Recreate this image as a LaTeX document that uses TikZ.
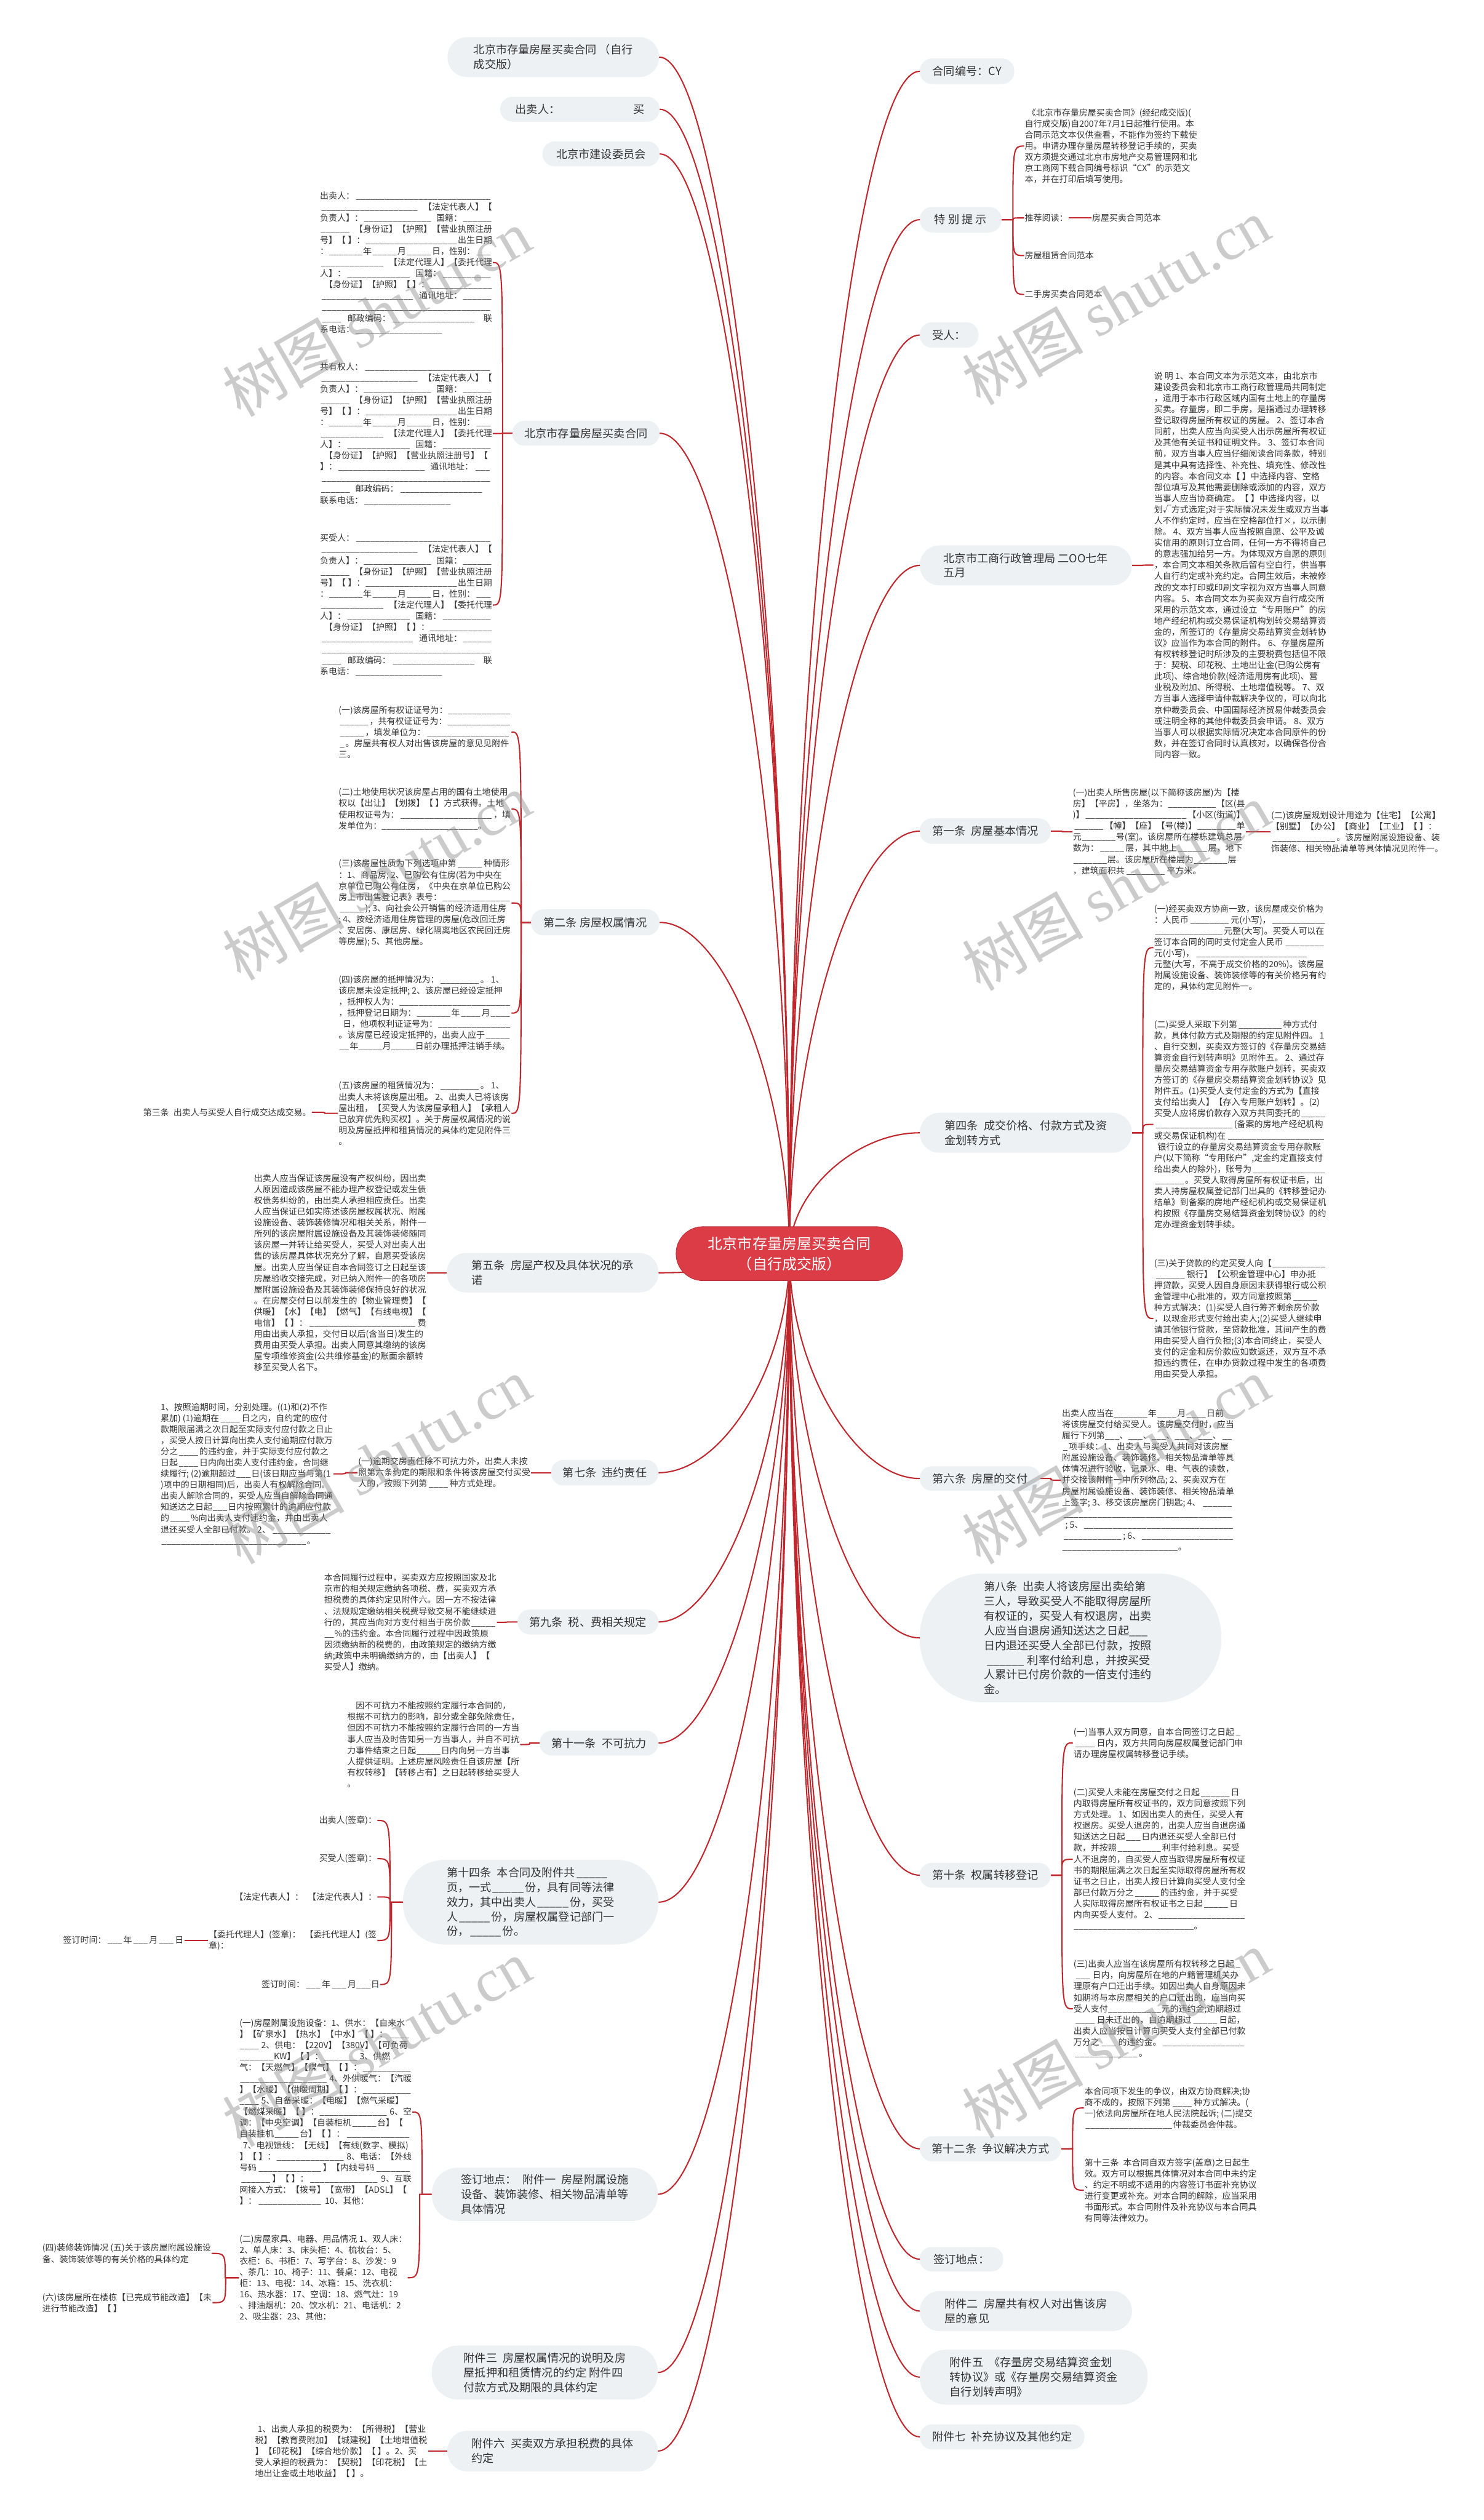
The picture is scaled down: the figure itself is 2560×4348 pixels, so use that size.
\documentclass[tikz,border=0pt]{standalone}
\usepackage{fontspec}
\setmainfont{Noto Sans CJK SC}
\newfontfamily\wmserif{Liberation Serif}
\usetikzlibrary{calc}
\definecolor{linkred}{HTML}{C0272D}
\definecolor{boxgray}{HTML}{EEF1F4}
\definecolor{rootred}{HTML}{DC3C45}
\definecolor{txt}{HTML}{333333}
\newcommand\cfont{\fontsize{14.85pt}{19.2pt}\selectfont}
\newcommand\nfont{\fontsize{19.3pt}{25.3pt}\selectfont}
\newcommand\rfont{\fontsize{25.5pt}{35pt}\selectfont}
\newcommand\usc{\hbox{\_}}
\newcommand\Fl{\cleaders\usc\hskip 0pt plus 1fill\relax}
\newcommand\Bk[1]{\hbox to #1em{\cleaders\usc\hfill}}
\newcommand\Lf[1]{\hbox to 20em{#1}}
\newcommand\rlink[2]{\draw[link] let \p1=(rc), \p2=(#1.#2) in (\p1) .. controls (\x1,{0.5*(\y1+\y2)}) and ({0.5*(\x1+\x2)},\y2) .. (\p2);}
\newcommand\blinkR[2]{\draw[link] let \p1=(#1.east), \p2=(#2.west), \n1={0.5*(\x1+\x2)} in (\p1) -- (\n1,\y1) .. controls (\n1,\y2) and (\n1,\y2) .. (\p2);}
\newcommand\blinkL[2]{\draw[link] let \p1=(#1.west), \p2=(#2.east), \n1={0.5*(\x1+\x2)} in (\p1) -- (\n1,\y1) .. controls (\n1,\y2) and (\n1,\y2) .. (\p2);}
\begin{document}
\begin{tikzpicture}[x=1pt,y=1pt,
  link/.style={draw=linkred,line width=2.2pt},
  box/.style={fill=boxgray,text=txt,font=\nfont,align=left,inner sep=0pt},
  leaf/.style={text=txt,font=\cfont,align=left,inner sep=1pt},
  wm/.style={rotate=30,text=black!45,opacity=0.45,font=\fontsize{105pt}{105pt}\selectfont}]
\fill[white] (0,0) rectangle (2560,-4348);
\useasboundingbox (0,0) rectangle (2560,-4348);
\coordinate (rc) at (1362,-2163);

% ---------- level 1, left ----------
\node[box,minimum width=365pt,minimum height=69pt,rounded corners=34pt] (L1) at (954.5,-98.5) {北京市存量房屋买卖合同 （自行\\成交版）};
\node[box,minimum width=275pt,minimum height=43pt,rounded corners=21pt] (L2) at (1000.5,-188.5) {出卖人：\hspace{126pt}买};
\node[box,minimum width=202pt,minimum height=43pt,rounded corners=21pt] (L3) at (1037,-265.5) {北京市建设委员会};
\node[box,minimum width=254pt,minimum height=43pt,rounded corners=21pt] (L4) at (1011,-747.5) {北京市存量房屋买卖合同};
\node[box,minimum width=222pt,minimum height=45pt,rounded corners=22pt] (L5) at (1027,-1591.5) {第二条 房屋权属情况};
\node[box,minimum width=365pt,minimum height=68pt,rounded corners=33pt] (L6) at (953.5,-2196) {第五条\enspace 房屋产权及具体状况的承\\诺};
\node[box,minimum width=185pt,minimum height=44pt,rounded corners=21pt] (L7) at (1043.5,-2541) {第七条\enspace 违约责任};
\node[box,minimum width=243pt,minimum height=43pt,rounded corners=21pt] (L8) at (1014.5,-2798.5) {第九条\enspace 税、费相关规定};
\node[box,minimum width=205pt,minimum height=43pt,rounded corners=21pt] (L9) at (1033.5,-3007.5) {第十一条\enspace 不可抗力};
\node[box,minimum width=441pt,minimum height=146pt,rounded corners=72pt] (L10) at (915.5,-3282) {第十四条\enspace 本合同及附件共\Bk{3}\\页，一式\Bk{3}份，具有同等法律\\效力，其中出卖人\Bk{3}份，买受\\人\Bk{3}份，房屋权属登记部门一\\份，\Bk{3}份。};
\node[box,minimum width=390pt,minimum height=92pt,rounded corners=45pt] (L11) at (940,-3786) {签订地点：\enspace 附件一\enspace 房屋附属设施\\设备、装饰装修、相关物品清单等\\具体情况};
\node[box,minimum width=390pt,minimum height=93pt,rounded corners=45pt] (L12) at (940,-4093.5) {附件三\enspace 房屋权属情况的说明及房\\屋抵押和租赁情况的约定 附件四\\付款方式及期限的具体约定};
\node[box,minimum width=363pt,minimum height=70pt,rounded corners=34pt] (L13) at (953.5,-4229) {附件六\enspace 买卖双方承担税费的具体\\约定};

% ---------- level 1, right ----------
\node[box,minimum width=163pt,minimum height=44pt,rounded corners=21pt] (R1) at (1668.5,-123) {合同编号：CY};
\node[box,minimum width=141pt,minimum height=44pt,rounded corners=21pt] (R2) at (1657.5,-379) {特 别 提 示};
\node[box,minimum width=101pt,minimum height=44pt,rounded corners=21pt] (R3) at (1637.5,-578) {受人：};
\node[box,minimum width=366pt,minimum height=69pt,rounded corners=34pt] (R4) at (1770,-975.5) {北京市工商行政管理局 二OO七年\\五月};
\node[box,minimum width=226pt,minimum height=44pt,rounded corners=21pt] (R5) at (1700,-1434) {第一条\enspace 房屋基本情况};
\node[box,minimum width=366pt,minimum height=69pt,rounded corners=34pt] (R6) at (1770,-1954.5) {第四条\enspace 成交价格、付款方式及资\\金划转方式};
\node[box,minimum width=208pt,minimum height=42pt,rounded corners=20pt] (R7) at (1691,-2551) {第六条\enspace 房屋的交付};
\node[box,minimum width=520pt,minimum height=222pt,rounded corners=108pt] (R8) at (1847,-2826) {第八条\enspace 出卖人将该房屋出卖给第\\三人，导致买受人不能取得房屋所\\有权证的，买受人有权退房，出卖\\人应当自退房通知送达之日起\Bk{1.7}\\日内退还买受人全部已付款，按照\Bk{0.5}\\\Bk{3.9}利率付给利息，并按买受\\人累计已付房价款的一倍支付违约\\金。};
\node[box,minimum width=226pt,minimum height=43pt,rounded corners=21pt] (R9) at (1700,-3235.5) {第十条\enspace 权属转移登记};
\node[box,minimum width=244pt,minimum height=43pt,rounded corners=21pt] (R10) at (1709,-3707.5) {第十二条\enspace 争议解决方式};
\node[box,minimum width=144pt,minimum height=42pt,rounded corners=20pt] (R11) at (1659,-3898) {签订地点：};
\node[box,minimum width=366pt,minimum height=69pt,rounded corners=34pt] (R12) at (1770,-3987.5) {附件二\enspace 房屋共有权人对出售该房\\屋的意见};
\node[box,minimum width=393pt,minimum height=95pt,rounded corners=46pt] (R13) at (1783.5,-4101.5) {附件五\enspace《存量房交易结算资金划\\转协议》或《存量房交易结算资金\\自行划转声明》};
\node[box,minimum width=284pt,minimum height=43pt,rounded corners=21pt] (R14) at (1729,-4204.5) {附件七\enspace 补充协议及其他约定};

% ---------- left leaves ----------
\node[leaf,anchor=west] (P1) at (551,-453) {\Lf{出卖人：\Fl}\\
\Lf{\Fl\enspace【法定代表人】【}\\
\Lf{负责人】：\Bk{8}\enspace 国籍：\Fl}\\
\Lf{\Fl\enspace【身份证】【护照】【营业执照注册}\\
\Lf{号】【 】：\Fl 出生日期}\\
\Lf{：\Bk{4}年\Bk{3}月\Bk{3}日，性别：\Fl}\\
\Lf{\Fl\enspace【法定代理人】【委托代理}\\
\Lf{人】：\Bk{7.6}\enspace 国籍：\Fl}\\
\Lf{\kern0.5em【身份证】【护照】【 】：\Fl}\\
\Lf{\Bk{11}\enspace 通讯地址：\Fl}\\
\Lf{\Fl}\\
\Lf{\Bk{2.7}\enspace 邮政编码：\Bk{10}\hfill 联}\\
系电话：\Bk{10.3}};
\node[leaf,anchor=west] (P2) at (551,-748) {\Lf{共有权人：\Fl}\\
\Lf{\Fl\enspace【法定代表人】【}\\
\Lf{负责人】：\Bk{8}\enspace 国籍：\Fl}\\
\Lf{\Fl\enspace【身份证】【护照】【营业执照注册}\\
\Lf{号】【 】：\Fl 出生日期}\\
\Lf{：\Bk{4}年\Bk{3}月\Bk{3}日，性别：\Fl}\\
\Lf{\Fl\enspace【法定代理人】【委托代理}\\
\Lf{人】：\Bk{7.6}\enspace 国籍：\Fl}\\
\kern0.5em【身份证】【护照】【营业执照注册号】【\\
\Lf{】：\Bk{10.3}\enspace 通讯地址：\Fl}\\
\Lf{\Fl}\\
\Bk{3.6}\enspace 邮政编码：\Bk{10}\\
联系电话：\Bk{10.3}};
\node[leaf,anchor=west] (P3) at (551,-1044) {\Lf{买受人：\Fl}\\
\Lf{\Fl\enspace【法定代表人】【}\\
\Lf{负责人】：\Bk{8}\enspace 国籍：\Fl}\\
\Lf{\Fl\enspace【身份证】【护照】【营业执照注册}\\
\Lf{号】【 】：\Fl 出生日期}\\
\Lf{：\Bk{4}年\Bk{3}月\Bk{3}日，性别：\Fl}\\
\Lf{\Fl\enspace【法定代理人】【委托代理}\\
\Lf{人】：\Bk{7.6}\enspace 国籍：\Fl}\\
\Lf{\kern0.5em【身份证】【护照】【 】：\Fl}\\
\Lf{\Bk{11}\enspace 通讯地址：\Fl}\\
\Lf{\Fl}\\
\Lf{\Bk{2.7}\enspace 邮政编码：\Bk{10}\hfill 联}\\
系电话：\Bk{10.3}};

\node[leaf,anchor=west] (S1) at (583,-1263) {\Lf{(一)该房屋所有权证证号为：\Fl}\\
\Lf{\Bk{3.6}，共有权证证号为：\Fl}\\
\Lf{\Bk{3.1}，填发单位为：\Fl}\\
\Bk{0.8}。房屋共有权人对出售该房屋的意见见附件\\
三。};
\node[leaf,anchor=west] (S2) at (583,-1396) {(二)土地使用状况该房屋占用的国有土地使用\\
权以【出让】【划拨】【 】方式获得。土地\\
\Lf{使用权证号为：\Fl，填}\\
发单位为：\Bk{11.2}。};
\node[leaf,anchor=west] (S3) at (583,-1558) {(三)该房屋性质为下列选项中第\Bk{3.2}种情形\\
：1、商品房; 2、已购公有住房(若为中央在\\
京单位已购公有住房，《中央在京单位已购公\\
\Lf{房上市出售登记表》表号：\Fl}\\
\Bk{3.1}); 3、向社会公开销售的经济适用住房\\
; 4、按经济适用住房管理的房屋(危改回迁房\\
、安居房、康居房、绿化隔离地区农民回迁房\\
等房屋); 5、其他房屋。};
\node[leaf,anchor=west] (S4) at (583,-1748) {(四)该房屋的抵押情况为：\Bk{4.8}。 1、\\
该房屋未设定抵押; 2、该房屋已经设定抵押\\
\Lf{，抵押权人为：\Fl}\\
\Lf{，抵押登记日期为：\Bk{4.1}年\Bk{2.5}月\Fl}\\
\Lf{\Bk{0.5}日，他项权利证证号为：\Fl}\\
\Lf{。该房屋已经设定抵押的，出卖人应于\Fl}\\
\Bk{1.3}年\Bk{2.8}月\Bk{2.8}日前办理抵押注销手续。};
\node[leaf,anchor=west] (S5) at (583,-1921) {(五)该房屋的租赁情况为：\Bk{4.8}。 1、\\
出卖人未将该房屋出租。 2、出卖人已将该房\\
屋出租，【买受人为该房屋承租人】【承租人\\
已放弃优先购买权】。关于房屋权属情况的说\\
明及房屋抵押和租赁情况的具体约定见附件三\\
。};
\node[leaf,anchor=east] (T3) at (538,-1919) {第三条\enspace 出卖人与买受人自行成交达成交易。};

\node[leaf,anchor=west] (F5) at (437,-2196) {出卖人应当保证该房屋没有产权纠纷，因出卖\\
人原因造成该房屋不能办理产权登记或发生债\\
权债务纠纷的，由出卖人承担相应责任。出卖\\
人应当保证已如实陈述该房屋权属状况、附属\\
设施设备、装饰装修情况和相关关系，附件一\\
所列的该房屋附属设施设备及其装饰装修随同\\
该房屋一并转让给买受人，买受人对出卖人出\\
售的该房屋具体状况充分了解，自愿买受该房\\
屋。出卖人应当保证自本合同签订之日起至该\\
房屋验收交接完成，对已纳入附件一的各项房\\
屋附属设施设备及其装饰装修保持良好的状况\\
。在房屋交付日以前发生的【物业管理费】【\\
供暖】【水】【电】【燃气】【有线电视】【\\
\Lf{电信】【 】：\Fl 费}\\
用由出卖人承担，交付日以后(含当日)发生的\\
费用由买受人承担。出卖人同意其缴纳的该房\\
屋专项维修资金(公共维修基金)的账面余额转\\
移至买受人名下。};

\node[leaf,anchor=west] (A7) at (617,-2541) {(一)逾期交房责任除不可抗力外，出卖人未按\\
照第六条约定的期限和条件将该房屋交付买受\\
人的，按照下列第\Bk{2.6}种方式处理。};
\node[leaf,anchor=west] (B7) at (276,-2543) {1、按照逾期时间，分别处理。((1)和(2)不作\\
累加) (1)逾期在\Bk{2.6}日之内，自约定的应付\\
款期限届满之次日起至实际支付应付款之日止\\
，买受人按日计算向出卖人支付逾期应付款万\\
分之\Bk{2.5}的违约金，并于实际支付应付款之\\
日起\Bk{2.5}日内向出卖人支付违约金，合同继\\
续履行; (2)逾期超过\Bk{1.8}日(该日期应当与第(1\\
)项中的日期相同)后，出卖人有权解除合同。\\
出卖人解除合同的，买受人应当自解除合同通\\
知送达之日起\Bk{1.8}日内按照累计的逾期应付款\\
的\Bk{2.5}\%向出卖人支付违约金，并由出卖人\\
\Lf{退还买受人全部已付款。 2、\Fl}\\
\Bk{17}。};

\node[leaf,anchor=west] (N9) at (558,-2799) {本合同履行过程中，买卖双方应按照国家及北\\
京市的相关规定缴纳各项税、费，买卖双方承\\
担税费的具体约定见附件六。因一方不按法律\\
、法规规定缴纳相关税费导致交易不能继续进\\
\Lf{行的，其应当向对方支付相当于房价款\Fl}\\
\Bk{1.2}\%的违约金。本合同履行过程中因政策原\\
因须缴纳新的税费的，由政策规定的缴纳方缴\\
纳;政策中未明确缴纳方的，由【出卖人】【\\
买受人】缴纳。};

\node[leaf,anchor=west] (E11) at (598,-3010) {\kern1em 因不可抗力不能按照约定履行本合同的，\\
根据不可抗力的影响，部分或全部免除责任，\\
但因不可抗力不能按照约定履行合同的一方当\\
事人应当及时告知另一方当事人，并自不可抗\\
力事件结束之日起\Bk{2.9}日内向另一方当事\\
人提供证明。上述房屋风险责任自该房屋【所\\
有权转移】【转移占有】之日起转移给买受人\\
。};

\node[leaf,anchor=east] (C1) at (651,-3141) {出卖人(签章)：};
\node[leaf,anchor=east] (C2) at (651,-3207) {买受人(签章)：};
\node[leaf,anchor=east] (C3) at (651,-3273) {【法定代表人】：\enspace【法定代表人】：};
\node[leaf,anchor=east] (C4) at (651,-3348) {【委托代理人】(签章)：\enspace【委托代理人】(签\\章)：};
\node[leaf,anchor=east] (C5) at (656,-3424) {签订时间：\Bk{2}年\Bk{2}月\Bk{1.7}日};
\node[leaf,anchor=east] (D2) at (318,-3348) {签订时间：\Bk{2}年\Bk{2}月\Bk{2}日};

\node[leaf,anchor=west] (Q1) at (412,-3644) {(一)房屋附属设施设备：1、供水：【自来水\\
\Lf{】【矿泉水】【热水】【中水】【 】：\Fl}\\
\Bk{2.3} 2、供电：【220V】【380V】【可负荷\\
\Bk{4}KW】【 】：\Bk{4} 3、供燃\\
\Lf{气：【天燃气】【煤气】【 】：\Fl}\\
\Lf{\Fl\ 4、外供暖气：【汽暖}\\
\Lf{】【水暖】【供暖周期】【 】：\Fl}\\
\Bk{2.3} 5、自备采暖：【电暖】【燃气采暖】\\
\Lf{【燃煤采暖】【 】：\Fl\ 6、空}\\
调：【中央空调】【自装柜机\Bk{3}台】【\\
\Lf{自装挂机\Bk{3}台】【 】：\Fl}\\
\Bk{0.4}7、电视馈线：【无线】【有线(数字、模拟)\\
\Lf{】【 】：\Fl\ 8、电话：【外线}\\
\Lf{号码\Bk{7.7}】【内线号码\Fl}\\
\Lf{\Bk{3.8}】【 】：\Fl\ 9、互联}\\
网接入方式：【拨号】【宽带】【ADSL】【\\
】：\Bk{7.7} 10、其他：};
\node[leaf,anchor=west] (Q2) at (412,-3930) {(二)房屋家具、电器、用品情况 1、双人床：\\
2、单人床：3、床头柜：4、梳妆台：5、\\
衣柜：6、书柜：7、写字台：8、沙发：9\\
、茶几：10、椅子：11、餐桌：12、电视\\
柜：13、电视：14、冰箱：15、洗衣机：\\
16、热水器：17、空调：18、燃气灶：19\\
、排油烟机：20、饮水机：21、电话机：2\\
2、吸尘器：23、其他：};
\node[leaf,anchor=west] (Q3) at (72,-3888) {(四)装修装饰情况 (五)关于该房屋附属设施设\\备、装饰装修等的有关价格的具体约定};
\node[leaf,anchor=west] (Q4) at (72,-3973) {(六)该房屋所在楼栋【已完成节能改造】【未\\进行节能改造】【 】};

\node[leaf,anchor=west] (X6) at (439,-4229) {\kern0.3em 1、出卖人承担的税费为：【所得税】【营业\\
税】【教育费附加】【城建税】【土地增值税\\
】【印花税】【综合地价款】【 】。2、买\\
受人承担的税费为：【契税】【印花税】【土\\
地出让金或土地收益】【 】。};

% ---------- right leaves ----------
\node[leaf,anchor=west] (H1) at (1767,-252) {\kern0.3em《北京市存量房屋买卖合同》(经纪成交版)(\\
自行成交版)自2007年7月1日起推行使用。本\\
合同示范文本仅供查看，不能作为签约下载使\\
用。申请办理存量房屋转移登记手续的，买卖\\
双方须提交通过北京市房地产交易管理网和北\\
京工商网下载合同编号标识“CX”的示范文\\
本，并在打印后填写使用。};
\node[leaf,anchor=west] (H2) at (1767,-376) {推荐阅读：};
\node[leaf,anchor=west] (H2b) at (1883,-376) {房屋买卖合同范本};
\node[leaf,anchor=west] (H3) at (1767,-441) {房屋租赁合同范本};
\node[leaf,anchor=west] (H4) at (1767,-508) {二手房买卖合同范本};

\node[leaf,anchor=west] (M) at (1990,-975) {说 明 1、本合同文本为示范文本，由北京市\\
建设委员会和北京市工商行政管理局共同制定\\
，适用于本市行政区域内国有土地上的存量房\\
买卖。存量房，即二手房，是指通过办理转移\\
登记取得房屋所有权证的房屋。 2、签订本合\\
同前，出卖人应当向买受人出示房屋所有权证\\
及其他有关证书和证明文件。 3、签订本合同\\
前，双方当事人应当仔细阅读合同条款，特别\\
是其中具有选择性、补充性、填充性、修改性\\
的内容。本合同文本【 】中选择内容、空格\\
部位填写及其他需要删除或添加的内容，双方\\
当事人应当协商确定。【 】中选择内容，以\\
划√方式选定;对于实际情况未发生或双方当事\\
人不作约定时，应当在空格部位打×，以示删\\
除。 4、双方当事人应当按照自愿、公平及诚\\
实信用的原则订立合同，任何一方不得将自己\\
的意志强加给另一方。为体现双方自愿的原则\\
，本合同文本相关条款后留有空白行，供当事\\
人自行约定或补充约定。合同生效后，未被修\\
改的文本打印或印刷文字视为双方当事人同意\\
内容。 5、本合同文本为买卖双方自行成交所\\
采用的示范文本，通过设立“专用账户”的房\\
地产经纪机构或交易保证机构划转交易结算资\\
金的，所签订的《存量房交易结算资金划转协\\
议》应当作为本合同的附件。 6、存量房屋所\\
有权转移登记时所涉及的主要税费包括但不限\\
于：契税、印花税、土地出让金(已购公房有\\
此项)、综合地价款(经济适用房有此项)、营\\
业税及附加、所得税、土地增值税等。 7、双\\
方当事人选择申请仲裁解决争议的，可以向北\\
京仲裁委员会、中国国际经济贸易仲裁委员会\\
或注明全称的其他仲裁委员会申请。 8、双方\\
当事人可以根据实际情况决定本合同原件的份\\
数，并在签订合同时认真核对，以确保各份合\\
同内容一致。};

\node[leaf,anchor=west] (Y1) at (1850,-1435) {(一)出卖人所售房屋(以下简称该房屋)为【楼\\
\Lf{房】【平房】，坐落为：\Fl【区(县}\\
\Lf{)】\Fl【小区(街道)】}\\
\Lf{\Bk{3.7}【幢】【座】【号(楼)】\Fl 单}\\
元\Bk{4}号(室)。该房屋所在楼栋建筑总层\\
数为：\Bk{3.1}层，其中地上\Bk{3.6}层，地下\\
\Bk{4}层。该房屋所在楼层为\Bk{4}层\\
，建筑面积共\Bk{4.9}平方米。};
\node[leaf,anchor=west] (Y2) at (2192,-1435) {(二)该房屋规划设计用途为【住宅】【公寓】\\
【别墅】【办公】【商业】【工业】【 】：\Bk{0.5}\\
\Bk{7.6}。该房屋附属设施设备、装\\
饰装修、相关物品清单等具体情况见附件一。};

\node[leaf,anchor=west] (V1) at (1990,-1635) {(一)经买卖双方协商一致，该房屋成交价格为\\
\Lf{：人民币\Bk{4.9}元(小写)，\Fl}\\
\Bk{8.1}元整(大写)。买受人可以在\\
\Lf{签订本合同的同时支付定金人民币\Fl}\\
元(小写)，\Bk{13.3}\\
元整(大写，不高于成交价格的20\%)。该房屋\\
附属设施设备、装饰装修等的有关价格另有约\\
定的，具体约定见附件一。};
\node[leaf,anchor=west] (V2) at (1990,-1940) {(二)买受人采取下列第\Bk{5.3}种方式付\\
款，具体付款方式及期限的约定见附件四。 1\\
、自行交割，买卖双方签订的《存量房交易结\\
算资金自行划转声明》见附件五。 2、通过存\\
量房交易结算资金专用存款账户划转，买卖双\\
方签订的《存量房交易结算资金划转协议》见\\
附件五。(1)买受人支付定金的方式为【直接\\
支付给出卖人】【存入专用账户划转】。(2)\\
\Lf{买受人应将房价款存入双方共同委托的\Fl}\\
\Bk{9.3}(备案的房地产经纪机构\\
\Lf{或交易保证机构)在\Fl}\\
\Bk{0.4}银行设立的存量房交易结算资金专用存款账\\
户(以下简称“专用账户”,定金约定直接支付\\
\Lf{给出卖人的除外)，账号为\Fl}\\
\Bk{3.6}。买受人取得房屋所有权证书后，出\\
卖人持房屋权属登记部门出具的《转移登记办\\
结单》到备案的房地产经纪机构或交易保证机\\
构按照《存量房交易结算资金划转协议》的约\\
定办理资金划转手续。};
\node[leaf,anchor=west] (V3) at (1990,-2275) {\Lf{(三)关于贷款的约定买受人向【\Fl}\\
\Bk{3.8}银行】【公积金管理中心】申办抵\\
押贷款，买受人因自身原因未获得银行或公积\\
金管理中心批准的，双方同意按照第\Bk{3.1}\\
种方式解决：(1)买受人自行筹齐剩余房价款\\
，以现金形式支付给出卖人;(2)买受人继续申\\
请其他银行贷款，至贷款批准，其间产生的费\\
用由买受人自行负担;(3)本合同终止，买受人\\
支付的定金和房价款应如数返还，双方互不承\\
担违约责任，在申办贷款过程中发生的各项费\\
用由买受人承担。};

\node[leaf,anchor=west] (W6) at (1831,-2554) {出卖人应当在\Bk{4}年\Bk{2.4}月\Bk{2.4}日前\\
将该房屋交付给买受人。该房屋交付时，应当\\
履行下列第\Bk{1.7}、\Bk{1.7}、\Bk{1.7}、\Bk{1.7}、\Bk{1.7}、\Bk{1.4}\\
\Bk{0.8}项手续：1、出卖人与买受人共同对该房屋\\
附属设施设备、装饰装修、相关物品清单等具\\
体情况进行验收，记录水、电、气表的读数，\\
并交接该附件一中所列物品; 2、买卖双方在\\
房屋附属设施设备、装饰装修、相关物品清单\\
\Lf{上签字; 3、移交该房屋房门钥匙; 4、\Fl}\\
\Lf{\Fl}\\
\Lf{\Bk{0.4}; 5、\Fl}\\
\Lf{\Bk{7.1}; 6、\Fl}\\
\Bk{13.5}。};

\node[leaf,anchor=west] (Z1) at (1851,-3007) {(一)当事人双方同意，自本合同签订之日起\Bk{0.9}\\
\Bk{2.7}日内，双方共同向房屋权属登记部门申\\
请办理房屋权属转移登记手续。};
\node[leaf,anchor=west] (Z2) at (1851,-3208) {(二)买受人未能在房屋交付之日起\Bk{3.6}日\\
内取得房屋所有权证书的，双方同意按照下列\\
方式处理。 1、如因出卖人的责任，买受人有\\
权退房。买受人退房的，出卖人应当自退房通\\
知送达之日起\Bk{1.9}日内退还买受人全部已付\\
款，并按照\Bk{5.3}利率付给利息。买受\\
人不退房的，自买受人应当取得房屋所有权证\\
书的期限届满之次日起至实际取得房屋所有权\\
证书之日止，出卖人按日计算向买受人支付全\\
部已付款万分之\Bk{3.1}的违约金，并于买受\\
人实际取得房屋所有权证书之日起\Bk{3.1}日\\
\Lf{内向买受人支付。 2、\Fl}\\
\Bk{14}。};
\node[leaf,anchor=west] (Z3) at (1851,-3466) {(三)出卖人应当在该房屋所有权转移之日起\Bk{0.9}\\
\Bk{2.2}日内，向房屋所在地的户籍管理机关办\\
理原有户口迁出手续。如因出卖人自身原因未\\
如期将与本房屋相关的户口迁出的，应当向买\\
受人支付\Bk{6.2}元的违约金;逾期超过\Bk{0.5}\\
\Bk{2.7}日未迁出的，自逾期超过\Bk{3.2}日起，\\
出卖人应当按日计算向买受人支付全部已付款\\
\Lf{万分之\Bk{2.2}的违约金。\Fl}\\
\Bk{7.6}。};

\node[leaf,anchor=west] (K1) at (1870,-3637) {本合同项下发生的争议，由双方协商解决;协\\
商不成的，按照下列第\Bk{2.7}种方式解决。(\\
一)依法向房屋所在地人民法院起诉; (二)提交\Bk{0.4}\\
\Bk{10.3}仲裁委员会仲裁。};
\node[leaf,anchor=west] (K2) at (1870,-3779) {第十三条\enspace 本合同自双方签字(盖章)之日起生\\
效。双方可以根据具体情况对本合同中未约定\\
、约定不明或不适用的内容签订书面补充协议\\
进行变更或补充。对本合同的解除，应当采用\\
书面形式。本合同附件及补充协议与本合同具\\
有同等法律效力。};

% ---------- connectors ----------
\foreach \q in {L1,L2,L3,L4,L5,L6,L7,L8,L9,L10,L11,L12,L13} {\rlink{\q}{east}}
\foreach \q in {R1,R2,R3,R4,R5,R6,R7,R8,R9,R10,R11,R12,R13,R14} {\rlink{\q}{west}}
\foreach \q in {P1,P2,P3} {\blinkL{L4}{\q}}
\foreach \q in {S1,S2,S3,S4,S5} {\blinkL{L5}{\q}}
\blinkL{S5}{T3}
\blinkL{L6}{F5}
\blinkL{L7}{A7}
\blinkL{A7}{B7}
\blinkL{L8}{N9}
\blinkL{L9}{E11}
\foreach \q in {C1,C2,C3,C4,C5} {\blinkL{L10}{\q}}
\blinkL{C4}{D2}
\foreach \q in {Q1,Q2} {\blinkL{L11}{\q}}
\foreach \q in {Q3,Q4} {\blinkL{Q2}{\q}}
\blinkL{L13}{X6}
\foreach \q in {H1,H2,H3,H4} {\blinkR{R2}{\q}}
\blinkR{H2}{H2b}
\blinkR{R4}{M}
\blinkR{R5}{Y1}
\blinkR{Y1}{Y2}
\foreach \q in {V1,V2,V3} {\blinkR{R6}{\q}}
\blinkR{R7}{W6}
\foreach \q in {Z1,Z2,Z3} {\blinkR{R9}{\q}}
\foreach \q in {K1,K2} {\blinkR{R10}{\q}}

% ---------- root ----------
\node[fill=rootred,draw=rootred!85!black,line width=1pt,text=white,font=\rfont,align=center,minimum width=391pt,minimum height=93pt,rounded corners=46pt,inner sep=0pt] (root) at (rc) {北京市存量房屋买卖合同\\（自行成交版）};

% ---------- watermarks ----------
\foreach \i/\x/\y in {1/650/540,2/1925/520,3/650/1513,4/1925/1530,5/650/2520,6/1925/2520,7/650/3525,8/1925/3510}
  {\node[wm] (wm\i) at (\x,-\y) {树图 {\wmserif shutu.cn}};}
\end{tikzpicture}
\end{document}
